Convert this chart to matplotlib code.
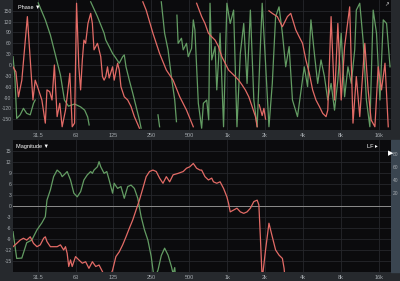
import numpy as np
import matplotlib
matplotlib.use("Agg")
import matplotlib.pyplot as plt
from matplotlib.patches import Rectangle

plt.rcParams['font.family'] = ['Liberation Sans', 'DejaVu Sans']
plt.rcParams['axes.unicode_minus'] = False
nan = np.nan

# x axis ticks
freq_ticks = [31.5, 63, 125, 250, 500, 1000, 2000, 4000, 8000, 16000]
freq_labels = ['31.5', '63', '125', '250', '500', '1k', '2k', '4k', '8k', '16k']
phase_ticks = [150, 120, 90, 60, 30, 0, -30, -60, -90, -120, -150]
mag_ticks = [15, 12, 9, 6, 3, 0, -3, -6, -9, -12, -15]
coh_ticks = [20, 40, 60, 80]

# phase (deg), nan = wrap
red_phase_f = [20, 21.1, 22.1, 23.5, 26.0, 28.8, 30.0, 31.3, 33.9, 36.1, 37.2, 39.1, 40.8, 42.6, 44.8,
               47.0, 49.1, 52.2, 53.8, 56.5, 59.0, 61.6, 63.9, 66.6, 68.8, 71.0, 73.1, 75.4, 78.7, 82.7,
               85.3, 87.9, 93.6, 99.4, 102.6, 105.7, 109.0, 112.5, 115.9, 123.4, 127.1, 135.3, 139.4,
               143.8, 152.8, 162.7, 172.9, 183.8, 201.5, 205,
               214.5, 228.0, 257.9, 291.4, 329.6, 373.0, 421.2, 476.6, 539.4, 555,
               573.2, 628.5, 667.9, 711.2, 755.7, 803.1, 855.0, 908.8, 965.8, 1028, 1093, 1161, 1237,
               1314, 1396, 1487, 1580, 1680, 1733, 1760,
               1800, 1900, 1960, 2020, 2080,
               2150, 2285, 2505, 2748, 3012, 3202, 3512, 3737, 3972, 4222, 4494, 4776, 5076, 5404,
               5743, 6104, 6298, 6693, 7126, 7573, 8048, 8568, 9397, 9986, 10612, 11300, 12390,
               13170, 13910, 14900, 15830, 16810, 17920, 19020]
red_phase = [-5, -19, -88, -42, 134, -97, -42, -60, -97, -161, -69, -74, -97, 0, -143,
             -106, -171, -125, -88, -23, -171, -161, 171, -5, -69, 14, 69, 60, 115, 143,
             115, 42, 60, 23, -32, -42, -32, -5, -36, -5, -42, 5, -14,
             -60, -88, -97, -115, -143, -175, nan,
             175, 152, 88, 32, -14, -42, -88, -125, -171, nan,
             171, 134, 115, 88, 78, 69, 51, 23, 5, -14, -23, -32, -42,
             -55, -69, -88, -115, -143, -171, nan,
             -110, -140, -120, -150, nan,
             150, 143, 134, 106, 134, 143, 97, 78, 60, 14, -23, -69, -97, -115,
             -134, -143, -125, 134, -97, 115, -97, 51, 161, -161, -32, -143, 60,
             -69, -152, -171, -5, -69, 5, -171]

green_phase_f = [20, 20.7, 21.4, 22.8, 24.2, 25.7, 27.4, 29.1, 30.0, 31,
                 31.7, 36.1, 39.6, 43.4, 47.6, 51.2, 55.1, 61.6, 68.8, 74.1, 78.3, 80.4, 81,
                 82.7, 93.6, 105.7, 109.0, 115.9, 123.4, 131.1, 139.4, 148.4, 152.8, 157.7, 167.5,
                 178.4, 189.6, 201.5, 207.9, 240,
                 282.9, 291.4, 295,
                 300.6, 319.4, 340.1, 361.5, 384.2, 396.5, 398,
                 400, 408.9, 434.6, 448.5, 476.6, 491.8, 522.7, 539.4, 555.5, 573.2, 591.4, 628.5,
                 648.5, 689.2, 714.8, 732.4, 755.7, 803.1, 828.6, 880.4, 937.7, 996.6, 1059, 1127,
                 1198, 1274, 1356, 1441, 1531, 1631, 1733, 1842, 1900, 2020, 2150, 2285, 2428, 2585,
                 2748, 2920, 3108, 3303, 3622, 4099, 4356, 4629, 4928, 5237, 5566, 5925, 6298, 6693,
                 7126, 7573, 8048, 8568, 9107, 9678, 10304, 10612, 11300, 12007, 12760, 13590, 14440,
                 15350, 16340, 17360, 18450, 19650]
green_phase = [23, -32, -148, -138, -120, -134, -138, -106, -97, nan,
               172, 125, 83, 28, -28, -97, -114, -108, -116, -125, -144, -166, nan,
               175, 134, 88, 69, 51, 32, 19, 5, 23, 28, -5, -42,
               -78, -115, -152, -175, nan,
               -138, -171, nan,
               175, 88, 42, -32, -97, -157, nan,
               138, 60, 74, 42, 60, 23, 46, 125, 97, -5, -106, -175,
               -106, -97, -152, 171, 14, 51, -69, 88, -171, 171, 115, 152,
               -171, 32, 115, -51, 152, -97, -171, 60, 171, 5, -171, -51, 134, 161,
               88, -5, 51, -97, -143, -5, -60, 125, 32, -51, 14, -32, -97, -51,
               -125, -42, 88, -88, -5, -51, 42, 152, 171, 69, -97, -171, 152,
               88, -97, 125, 115, -5]

# magnitude (dB)
red_mag_f = [20, 21.4, 22.8, 24.2, 25.7, 27.4, 29.1, 31.0, 32.9, 35.0, 36.1, 37.2, 39.6, 42.0, 44.8,
             47.6, 50.5, 52.2, 53.8, 55.4, 57.2, 59.0, 62.7, 66.6, 71.0, 75.4, 80.1, 85.3, 90.7, 96.4,
             102.6, 109.0, 115.9, 123.4, 131.1, 139.4, 148.4, 157.7, 167.5, 178.4, 189.6, 201.5,
             214.5, 228.0, 242.3, 257.9, 274.2, 291.4, 310.0, 329.6, 350.3, 373.0, 408.9, 448.5,
             476.6, 506.3, 539.4, 573.2, 609.0, 628.5, 667.9, 711.2, 755.7, 779.6, 828.6, 880.4,
             937.7, 996.6, 1028, 1059, 1127, 1198, 1274, 1356, 1441, 1531, 1631, 1733, 1788, 1842,
             1900, 2020, 2150, 2285, 2428, 2585, 2748, 2835, 2920]
red_mag = [-11.1, -10.2, -9.3, -8.8, -9.3, -8.4, -10.2, -11.1, -10.6, -8.8, -8.4, -9.7, -11.1, -11.1, -11.1,
           -10.6, -12.0, -11.1, -12.9, -16.5, -14.7, -16.5, -13.8, -14.7, -15.6, -15.2, -17.0, -15.2, -16.5, -16.1,
           -17.9, -20, -20, -17.5, -13.8, -12.5, -10.6, -8.4, -6.1, -3.8, -1.1, 1.6,
           4.8, 8.0, 9.4, 9.8, 9.4, 7.6, 6.2, 8.0, 6.6, 8.5, 8.9, 9.4,
           10.3, 10.7, 11.6, 10.3, 9.8, 9.8, 8.0, 7.1, 7.6, 6.6, 6.2, 6.6,
           4.8, 2.5, 0.7, -1.6, -1.1, -0.6, -1.6, -2.0, -1.6, -0.6, 1.2, 1.6, 0.3, -9.3,
           -20, -12.0, -4.7, -8.4, -12.0, -13.4, -14.3, -17.0, -22]

green_mag_f = [20, 21.4, 23.5, 25.7, 28.2, 31.0, 33.9, 36.1, 37.2, 39.6, 42.0, 44.8, 47.6, 49.1, 52.2,
               53.8, 57.2, 60.8, 64.7, 68.8, 73.1, 77.8, 82.7, 85.3, 87.9, 93.6, 96.4, 99.4, 105.7,
               111.0, 115.9, 123.4, 127.1, 135.3, 143.8, 152.8, 162.7, 172.9, 183.8, 195.6, 207.9,
               221.0, 235.3, 250.0, 264.2, 282.9, 300.6, 319.4, 340.1, 361.5, 373.0, 384.2, 396.5]
green_mag = [-7.0, -14.3, -14.2, -10.0, -9.3, -6.5, -4.6, -2.9, 1.6, 4.4, 8.0, 9.8, 9.0, 8.0, 8.9,
             9.4, 7.1, 3.5, 2.5, 3.9, 7.1, 8.5, 9.4, 8.9, 9.8, 10.7, 12.1, 10.7, 8.9,
             9.4, 7.1, 3.5, 6.2, 4.8, 5.3, 2.1, 5.3, 5.7, 4.8, 2.1, -2.9,
             -6.5, -9.3, -13.8, -20, -17.5, -13.5, -11.5, -13.4, -16.5, -18.5, -16.8, -22]

red = '#e36b66'
green = '#639c63'
txt = '#a4a9ae'
grid = '#26272b'

fig = plt.figure(figsize=(4, 2.81), dpi=100, facecolor='#26292d')
fig.add_artist(Rectangle((391 / 400, 1 - 272 / 281), 9 / 400, 132 / 281,
                         transform=fig.transFigure, color='#3a4550', zorder=-1))

ax1 = fig.add_axes([13 / 400, 1 - 130 / 281, 378 / 400, 130 / 281])
ax2 = fig.add_axes([13 / 400, 1 - 272 / 281, 378 / 400, 132 / 281])

for ax in (ax1, ax2):
    ax.set_facecolor('#0b0b0d')
    ax.set_xscale('log')
    ax.set_xlim(20, 20000)
    ax.set_xticks(freq_ticks)
    ax.set_xticklabels(freq_labels)
    ax.xaxis.set_minor_locator(matplotlib.ticker.NullLocator())
    ax.tick_params(length=0, labelsize=4, colors=txt, pad=2)
    ax.tick_params(axis='y', pad=1, labelsize=3.6)
    ax.grid(True, color=grid, lw=0.6)
    for s in ax.spines.values():
        s.set_visible(False)

ax1.set_ylim(-180, 180)
ax1.set_yticks(phase_ticks)
ax1.plot(green_phase_f, green_phase, color=green, lw=0.9)
ax1.plot(red_phase_f, red_phase, color=red, lw=0.9)
ax1.text(0.012, 0.965, 'Phase ▼', transform=ax1.transAxes, fontsize=4, color='white', va='top')
ax1.text(0.993, 0.98, '↗', transform=ax1.transAxes, fontsize=4, color='#cfcfcf', va='top', ha='right')

ax2.set_ylim(-18, 18)
ax2.set_yticks(mag_ticks)
ax2.axhline(0, color='#8c8c8c', lw=0.7)
ax2.plot(green_mag_f, green_mag, color=green, lw=0.9)
ax2.plot(red_mag_f, red_mag, color=red, lw=0.9)
ax2.text(0.008, 0.97, 'Magnitude ▼', transform=ax2.transAxes, fontsize=4, color='white', va='top')
ax2.text(0.965, 0.97, 'LF ▸', transform=ax2.transAxes, fontsize=4, color='white', va='top', ha='right')

ax3 = ax2.twinx()
ax3.set_ylim(-101.5, 101.5)
ax3.set_yticks(coh_ticks)
ax3.tick_params(length=0, labelsize=3.5, colors=txt, pad=1.5)
for s in ax3.spines.values():
    s.set_visible(False)
ax3.text(1.0, 80, '▶', transform=ax3.get_yaxis_transform(), fontsize=5, color='white',
         va='center', ha='center')

fig.savefig('out.png', dpi=100, facecolor=fig.get_facecolor())
